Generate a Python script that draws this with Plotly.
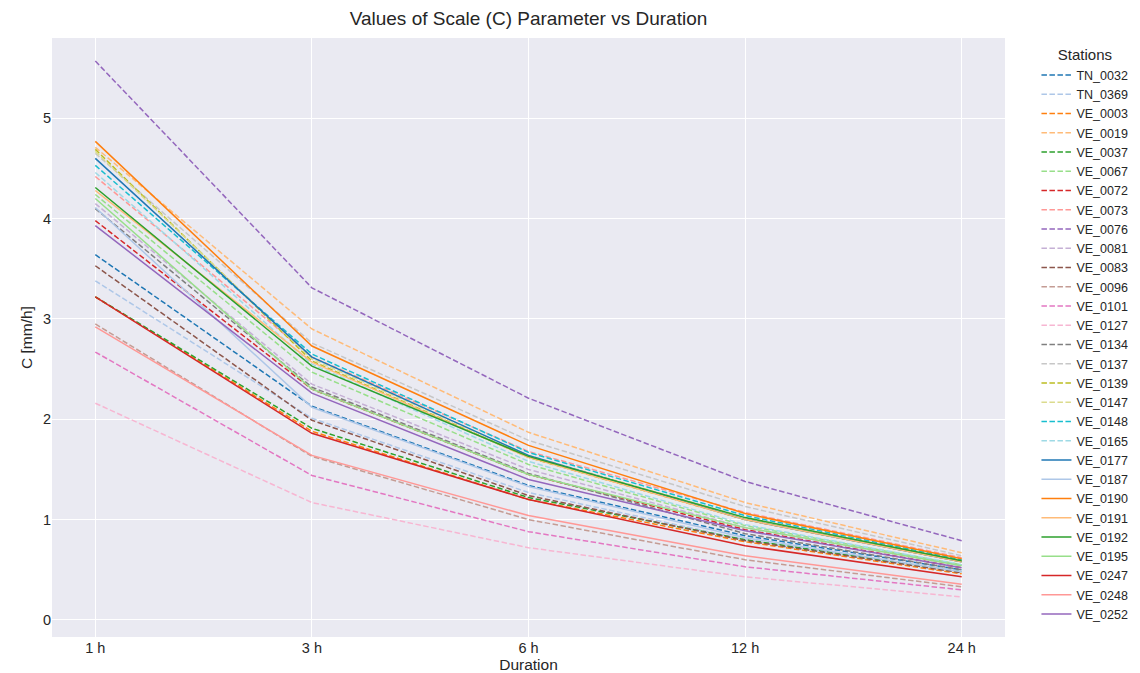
import plotly.graph_objects as go

durations = ["1 h", "3 h", "6 h", "12 h", "24 h"]

stations = ["TN_0032", "TN_0369", "VE_0003", "VE_0019", "VE_0037", "VE_0067", "VE_0072",
            "VE_0073", "VE_0076", "VE_0081", "VE_0083", "VE_0096", "VE_0101", "VE_0127",
            "VE_0134", "VE_0137", "VE_0139", "VE_0147", "VE_0148", "VE_0165", "VE_0177",
            "VE_0187", "VE_0190", "VE_0191", "VE_0192", "VE_0195", "VE_0247", "VE_0248",
            "VE_0252"]

TN_0032 = [3.64, 2.13, 1.34, 0.84, 0.50]
TN_0369 = [3.38, 2.01, 1.27, 0.80, 0.48]
VE_0003 = [3.22, 1.88, 1.20, 0.78, 0.46]
VE_0019 = [4.71, 2.90, 1.87, 1.17, 0.67]
VE_0037 = [3.22, 1.91, 1.22, 0.80, 0.48]
VE_0067 = [4.24, 2.47, 1.55, 0.94, 0.55]
VE_0072 = [3.98, 2.30, 1.45, 0.90, 0.52]
VE_0073 = [4.42, 2.62, 1.68, 1.07, 0.62]
VE_0076 = [5.57, 3.31, 2.21, 1.38, 0.79]
VE_0081 = [4.15, 2.35, 1.50, 0.92, 0.54]
VE_0083 = [3.53, 1.99, 1.24, 0.79, 0.47]
VE_0096 = [2.95, 1.63, 1.00, 0.60, 0.33]
VE_0101 = [2.67, 1.44, 0.88, 0.53, 0.30]
VE_0127 = [2.16, 1.17, 0.72, 0.43, 0.23]
VE_0134 = [4.10, 2.32, 1.46, 0.86, 0.50]
VE_0137 = [4.65, 2.76, 1.79, 1.13, 0.64]
VE_0139 = [4.69, 2.58, 1.62, 1.00, 0.58]
VE_0147 = [4.67, 2.60, 1.64, 1.02, 0.58]
VE_0148 = [4.53, 2.65, 1.67, 1.04, 0.60]
VE_0165 = [4.46, 2.55, 1.58, 0.95, 0.55]
VE_0177 = [4.60, 2.62, 1.64, 1.00, 0.58]
VE_0187 = [4.11, 2.12, 1.33, 0.82, 0.48]
VE_0190 = [4.77, 2.73, 1.74, 1.06, 0.61]
VE_0191 = [4.28, 2.57, 1.62, 1.00, 0.58]
VE_0192 = [4.31, 2.53, 1.63, 1.02, 0.59]
VE_0195 = [4.20, 2.30, 1.45, 0.92, 0.54]
VE_0247 = [3.22, 1.86, 1.20, 0.74, 0.43]
VE_0248 = [2.92, 1.64, 1.04, 0.64, 0.355]
VE_0252 = [3.93, 2.26, 1.40, 0.89, 0.52]

values = [TN_0032, TN_0369, VE_0003, VE_0019, VE_0037, VE_0067, VE_0072, VE_0073,
          VE_0076, VE_0081, VE_0083, VE_0096, VE_0101, VE_0127, VE_0134, VE_0137,
          VE_0139, VE_0147, VE_0148, VE_0165, VE_0177, VE_0187, VE_0190, VE_0191,
          VE_0192, VE_0195, VE_0247, VE_0248, VE_0252]

tab20 = ["#1f77b4", "#aec7e8", "#ff7f0e", "#ffbb78", "#2ca02c", "#98df8a", "#d62728",
         "#ff9896", "#9467bd", "#c5b0d5", "#8c564b", "#c49c94", "#e377c2", "#f7b6d2",
         "#7f7f7f", "#c7c7c7", "#bcbd22", "#dbdb8d", "#17becf", "#9edae5"]

fig = go.Figure()
for i, (name, vals) in enumerate(zip(stations, values)):
    dashed = i < 20
    fig.add_trace(go.Scatter(
        x=durations, y=vals, mode="lines", name=name,
        line=dict(color=tab20[i % 20], width=1.5,
                  dash="5.5px,2.5px" if dashed else "solid"),
    ))

font_family = "Liberation Sans, Arial, DejaVu Sans, sans-serif"
fig.update_layout(
    width=1140, height=673,
    paper_bgcolor="white", plot_bgcolor="#eaeaf2",
    margin=dict(l=52, r=135, t=38, b=36, autoexpand=False),
    font=dict(family=font_family, size=14, color="#262626"),
    title=dict(text="Values of Scale (C) Parameter vs Duration", x=0.5, xref="paper",
               xanchor="center", y=0.973, yanchor="middle",
               font=dict(size=19, color="#262626")),
    xaxis=dict(type="category", range=[-0.2, 4.2], showgrid=True, gridcolor="white",
               gridwidth=1.3, zeroline=False, showline=False, ticks="", automargin=False,
               title=dict(text="Duration", font=dict(size=15.5), standoff=4),
               tickfont=dict(size=14.5, color="#262626")),
    yaxis=dict(range=[-0.17, 5.8], tickvals=[0, 1, 2, 3, 4, 5], showgrid=True,
               gridcolor="white", gridwidth=1.3, zeroline=False, showline=False, ticks="",
               automargin=False,
               title=dict(text="C [mm/h]", font=dict(size=15.5), standoff=6),
               tickfont=dict(size=14.5, color="#262626")),
    legend=dict(title=dict(text="Stations", font=dict(size=15), side="top center"),
                x=1.033, xanchor="left", y=0.995, yanchor="top",
                font=dict(size=12.5, color="#262626"), bgcolor="rgba(255,255,255,0)",
                tracegroupgap=0, itemwidth=30),
)

fig.write_html("out.html")
